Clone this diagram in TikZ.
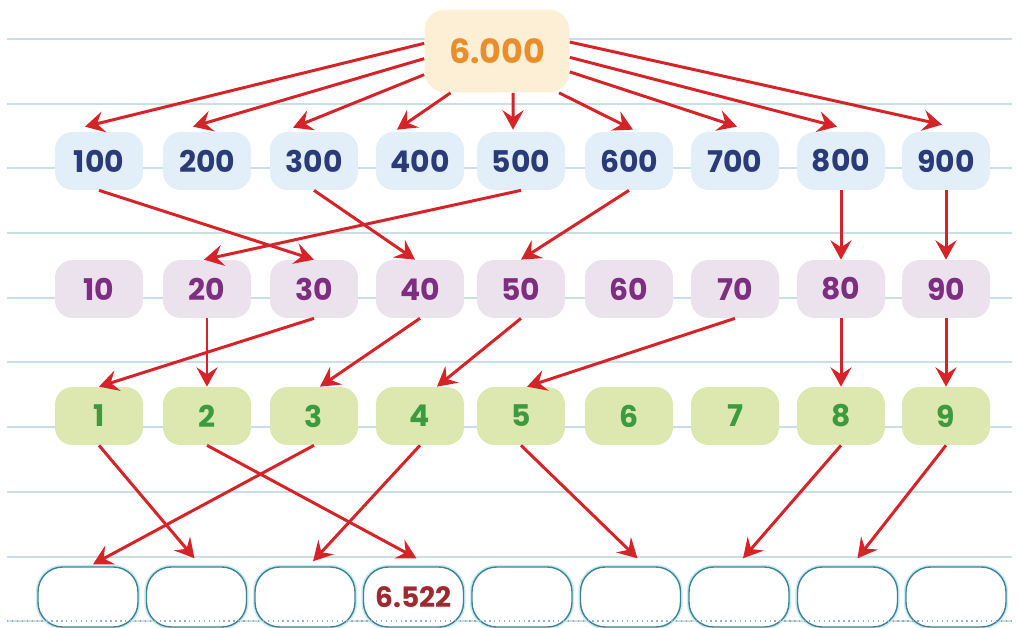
\documentclass[tikz,border=0pt]{standalone}
\usepackage{fontspec}
\setmainfont{Poppins}
\usetikzlibrary{arrows.meta, positioning, calc}
\definecolor{cRule}{RGB}{201,223,230}
\definecolor{cRuleDot}{RGB}{150,175,185}
\definecolor{cArrow}{RGB}{214,35,40}
\definecolor{cTotalFill}{RGB}{252,239,214}
\definecolor{cTotalText}{RGB}{233,142,43}
\definecolor{cHundredFill}{RGB}{226,239,248}
\definecolor{cHundredText}{RGB}{43,58,120}
\definecolor{cTenFill}{RGB}{236,226,238}
\definecolor{cTenText}{RGB}{125,46,128}
\definecolor{cUnitFill}{RGB}{220,232,175}
\definecolor{cUnitText}{RGB}{60,155,62}
\definecolor{cResultLine}{RGB}{62,130,150}
\definecolor{cResultGlow}{RGB}{200,236,243}
\definecolor{cResultText}{RGB}{158,42,47}

\begin{document}
\begin{tikzpicture}[x=0.02cm, y=-0.02cm,
    every node/.style={font=\bfseries\fontsize{17}{17}\selectfont, inner sep=0pt},
    digit/.style={rounded corners=10pt, minimum width=1.76cm, minimum height=1.16cm},
    hundred/.style={digit, fill=cHundredFill, text=cHundredText},
    ten/.style={digit, fill=cTenFill, text=cTenText},
    unit/.style={digit, fill=cUnitFill, text=cUnitText},
    result/.style={draw=cResultLine, line width=0.8pt, fill=white, rounded corners=14pt,
        minimum width=2cm, minimum height=1.2cm, preaction={draw=cResultGlow, line width=2.5pt}},
    link/.style={cArrow, line width=1.7pt, -{Stealth[length=11pt, width=12pt, inset=4pt]}}]
            \useasboundingbox (0,0) rectangle (1021,628);

            % ruled paper
            \draw[cRule, line width=1pt]
                (7,39) -- (1012,39) (7,104) -- (1012,104) (7,168) -- (1012,168)
                (7,233) -- (1012,233) (7,298) -- (1012,298) (7,362) -- (1012,362)
                (7,427) -- (1012,427) (7,492) -- (1012,492) (7,557) -- (1012,557)
                (7,621) -- (1012,621);

            \node[fill=cTotalFill, text=cTotalText, rounded corners=12pt, minimum width=2.9cm,
                minimum height=1.66cm, font=\bfseries\fontsize{19}{19}\selectfont] (total) at (497,51) {6.000};

            \node[hundred] (h1) at (99,161) {100};
            \node[hundred] (h2) at (207,161) {200};
            \node[hundred] (h3) at (314,161) {300};
            \node[hundred] (h4) at (420,161) {400};
            \node[hundred] (h5) at (521,161) {500};
            \node[hundred] (h6) at (629,161) {600};
            \node[hundred] (h7) at (735,161) {700};
            \node[hundred] (h8) at (841,161) {800};
            \node[hundred] (h9) at (946,161) {900};

            \node[ten] (t1) at (99,289) {10};
            \node[ten] (t2) at (207,289) {20};
            \node[ten] (t3) at (314,289) {30};
            \node[ten] (t4) at (420,289) {40};
            \node[ten] (t5) at (521,289) {50};
            \node[ten] (t6) at (629,289) {60};
            \node[ten] (t7) at (735,289) {70};
            \node[ten] (t8) at (841,289) {80};
            \node[ten] (t9) at (946,289) {90};

            \node[unit] (u1) at (99,416) {1};
            \node[unit] (u2) at (207,416) {2};
            \node[unit] (u3) at (314,416) {3};
            \node[unit] (u4) at (420,416) {4};
            \node[unit] (u5) at (521,416) {5};
            \node[unit] (u6) at (629,416) {6};
            \node[unit] (u7) at (735,416) {7};
            \node[unit] (u8) at (841,416) {8};
            \node[unit] (u9) at (946,416) {9};

            \node[result] (r1) at (88,597) {};
            \node[result] (r2) at (196.5,597) {};
            \node[result] (r3) at (305,597) {};
            \node[result, text=cResultText, font=\bfseries\fontsize{16}{16}\selectfont] (r4) at (413.5,597) {6.522};
            \node[result] (r5) at (522,597) {};
            \node[result] (r6) at (630.5,597) {};
            \node[result] (r7) at (739,597) {};
            \node[result] (r8) at (847.5,597) {};
            \node[result] (r9) at (956,597) {};
            \draw[cRuleDot, dotted, line width=0.8pt] (7,621) -- (1012,621);

            % thousands to hundreds
            \draw[link] (total.174) -- ($(h1.north)+(-14,-5)$);
            \draw[link] (total.186) -- ($(h2.north)+(-14,-5)$);
            \draw[link] (total.198) -- ($(h3.north)+(-21,-4)$);
            \draw[link] (total.222) -- ($(h4.north)+(-23,-2)$);
            \draw[link] (total.291) -- ($(h5.north)+(-8,-2)$);
            \draw[link] (total.326) -- ($(h6.north)+(4,-2)$);
            \draw[link] (total.344) -- ($(h7.north)+(2,-5)$);
            \draw[link] (total.355) -- ($(h8.north)+(-4,-5)$);
            \draw[link] (total.7) -- ($(h9.north)+(-4,-7)$);

            % hundreds to tens
            \draw[link] (h1.south) -- (t3.north);
            \draw[link] (h3.south) -- ($(t4.north)+(-5,0)$);
            \draw[link] (h5.south) -- ($(t2.north)+(-3,0)$);
            \draw[link] (h6.south) -- (t5.north);
            \draw[link] (h8.south) -- (t8.north);
            \draw[link] (h9.south) -- (t9.north);

            % tens to units
            \draw[link] (t2.south) -- (u2.north);
            \draw[link] (t3.south) -- (u1.north);
            \draw[link] (t4.south) -- ($(u3.north)+(6,0)$);
            \draw[link] (t5.south) -- ($(u4.north)+(17,0)$);
            \draw[link] (t7.south) -- ($(u5.north)+(6,0)$);
            \draw[link] (t8.south) -- (u8.north);
            \draw[link] (t9.south) -- (u9.north);

            % units to the result
            \draw[link] (u1.south) -- ($(r2.north)+(-2,-8)$);
            \draw[link] (u2.south) -- ($(r4.north)+(3,-8)$);
            \draw[link] (u3.south) -- ($(r1.north)+(5,-2)$);
            \draw[link] (u4.south) -- ($(r3.north)+(8,-5)$);
            \draw[link] (u5.south) -- ($(r6.north)+(7,-8)$);
            \draw[link] (u8.south) -- ($(r7.north)+(4,-8)$);
            \draw[link] (u9.south) -- ($(r8.north)+(10,-8)$);
            \end{tikzpicture}
\end{document}
